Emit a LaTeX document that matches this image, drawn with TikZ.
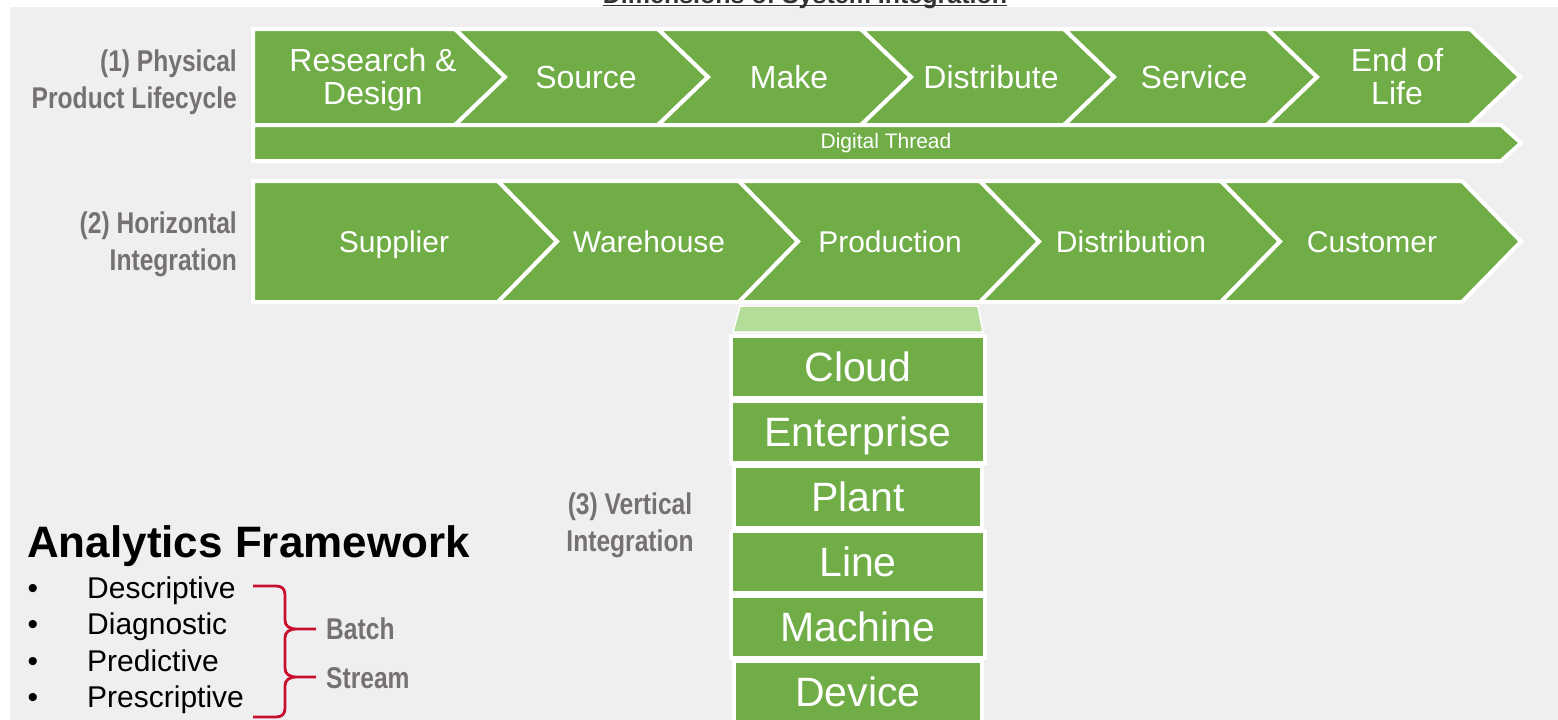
\documentclass[tikz,border=0pt]{standalone}
\usepackage{fontspec}
\setmainfont{Liberation Sans}
\newfontfamily\narrowfont[FakeStretch=0.82]{Liberation Sans}
\usepackage{xcolor}
\usepackage{tikz}
\definecolor{leaf}{HTML}{70AD47}
\definecolor{leaflight}{HTML}{B5DD9A}
\definecolor{panel}{HTML}{EFEFF2}
\definecolor{taggray}{HTML}{767171}
\definecolor{bracered}{HTML}{C8102E}

\begin{document}
\begin{tikzpicture}[x=1pt,y=-1pt,
  stage/.style={fill=leaf,draw=white,line width=4pt,line join=miter},
  stagetext/.style={text=white,inner sep=0pt,align=center},
  sidelabel/.style={text=taggray,inner sep=0pt,font=\narrowfont\bfseries\fontsize{30}{37}\selectfont},
  layertext/.style={text=white,inner sep=0pt,text height=30.75pt,text depth=8.2pt,font=\fontsize{41}{41}\selectfont}]
  \useasboundingbox (0,0) rectangle (1558,720);
  \fill[white] (0,0) rectangle (1558,720);
  \fill[panel] (10,7) rectangle (1558,720);

  % title, cut by the page top
  \node[anchor=base,inner sep=0pt,text=black!80,font=\bfseries\fontsize{25}{25}\selectfont] (title) at (805,3) {Dimensions of System Integration};
  \draw[black!80,line width=1.5pt] ([yshift=-2.5pt]title.base west) -- ([yshift=-2.5pt]title.base east);

  % (1) physical product lifecycle
  \draw[stage] (253,29) -- (455,29) -- (505,77) -- (455,125) -- (253,125) -- cycle;
  \foreach \t [remember=\t as \p (initially 505)] in {708,911,1114,1317,1520}{
    \draw[stage] (\p-50,29) -- (\t-50,29) -- (\t,77) -- (\t-50,125) -- (\p-50,125) -- (\p,77) -- cycle;
  }
  \foreach \x/\txt/\nm/\dy in {373/{Research \&\\Design}/rd/2,586/Source/src/-1,789/Make/make/-1,
                           991/Distribute/dist/-1,1194/Service/serv/-1,1397/{End of\\Life}/eol/-1}{
    \node[stagetext,font=\fontsize{32}{33}\selectfont] (\nm) at (\x,78+\dy) {\txt};
  }
  \draw[stage] (253,125) -- (1501,125) -- (1521,143) -- (1501,161) -- (253,161) -- cycle;
  \node[stagetext,font=\fontsize{21}{21}\selectfont] (thread) at (886,143) {Digital Thread};

  % (2) horizontal integration
  \draw[stage] (253,181) -- (498,181) -- (557,241.5) -- (498,302) -- (253,302) -- cycle;
  \foreach \t [remember=\t as \p (initially 557)] in {798,1039,1280,1521}{
    \draw[stage] (\p-59,181) -- (\t-59,181) -- (\t,241.5) -- (\t-59,302) -- (\p-59,302) -- (\p,241.5) -- cycle;
  }
  \foreach \x/\txt/\nm in {394/Supplier/sup,649/Warehouse/ware,890/Production/prod,
                           1131/Distribution/distr,1372/Customer/cust}{
    \node[stagetext,text height=22.5pt,text depth=6pt,font=\fontsize{30}{30}\selectfont] (\nm) at (\x,244) {\txt};
  }

  % (3) vertical integration
  \draw[fill=leaflight,draw=white,line width=1.5pt] (740,306) -- (978,306) -- (983,332) -- (733,332) -- cycle;
  \foreach \y/\txt/\nm/\inset in {338/Cloud/cloud/0,403/Enterprise/ent/0,468/Plant/plant/3,
                                  533/Line/line/0,598/Machine/mach/0,663/Device/dev/3}{
    \draw[stage] (731+\inset,\y-2) rectangle (985-\inset,\y+60);
    \node[layertext] (\nm) at (858,\y+32) {\txt};
  }

  \node[sidelabel,anchor=east,align=right] (physlbl) at (237,82) {(1) Physical\\Product Lifecycle};
  \node[sidelabel,anchor=east,align=right] (horlbl) at (237,244) {(2) Horizontal\\Integration};
  \node[sidelabel,align=center] (vertlbl) at (630,525) {(3) Vertical\\Integration};

  % analytics framework
  \node[anchor=base west,inner sep=0pt,font=\bfseries\fontsize{44}{44}\selectfont] (analytics) at (27,557) {Analytics Framework};
  \foreach \y/\txt [count=\k] in {587/Descriptive,623/Diagnostic,660/Predictive,696/Prescriptive}{
    \node[anchor=base,inner sep=0pt,font=\fontsize{30}{30}\selectfont] (dot\k) at (33,\y+11) {\textbullet};
    \node[anchor=base west,inner sep=0pt,font=\fontsize{30}{30}\selectfont] (kind\k) at (87,\y+11) {\txt};
  }
  \draw[bracered,line width=2.8pt]
    (253,586) -- (276,586) .. controls (282,586) and (285,589) .. (285,595) -- (285,620)
      .. controls (285,626) and (289,629) .. (297,629) -- (316,629)
    (297,629) .. controls (289,629) and (285,632) .. (285,638) -- (285,668)
      .. controls (285,674) and (289,677) .. (297,677) -- (316,677)
    (297,677) .. controls (289,677) and (285,680) .. (285,686) -- (285,708)
      .. controls (285,714) and (282,717) .. (276,717) -- (253,717);
  \node[sidelabel,anchor=west] (batch) at (326,629) {Batch};
  \node[sidelabel,anchor=west] (stream) at (326,678) {Stream};
\end{tikzpicture}
\end{document}
